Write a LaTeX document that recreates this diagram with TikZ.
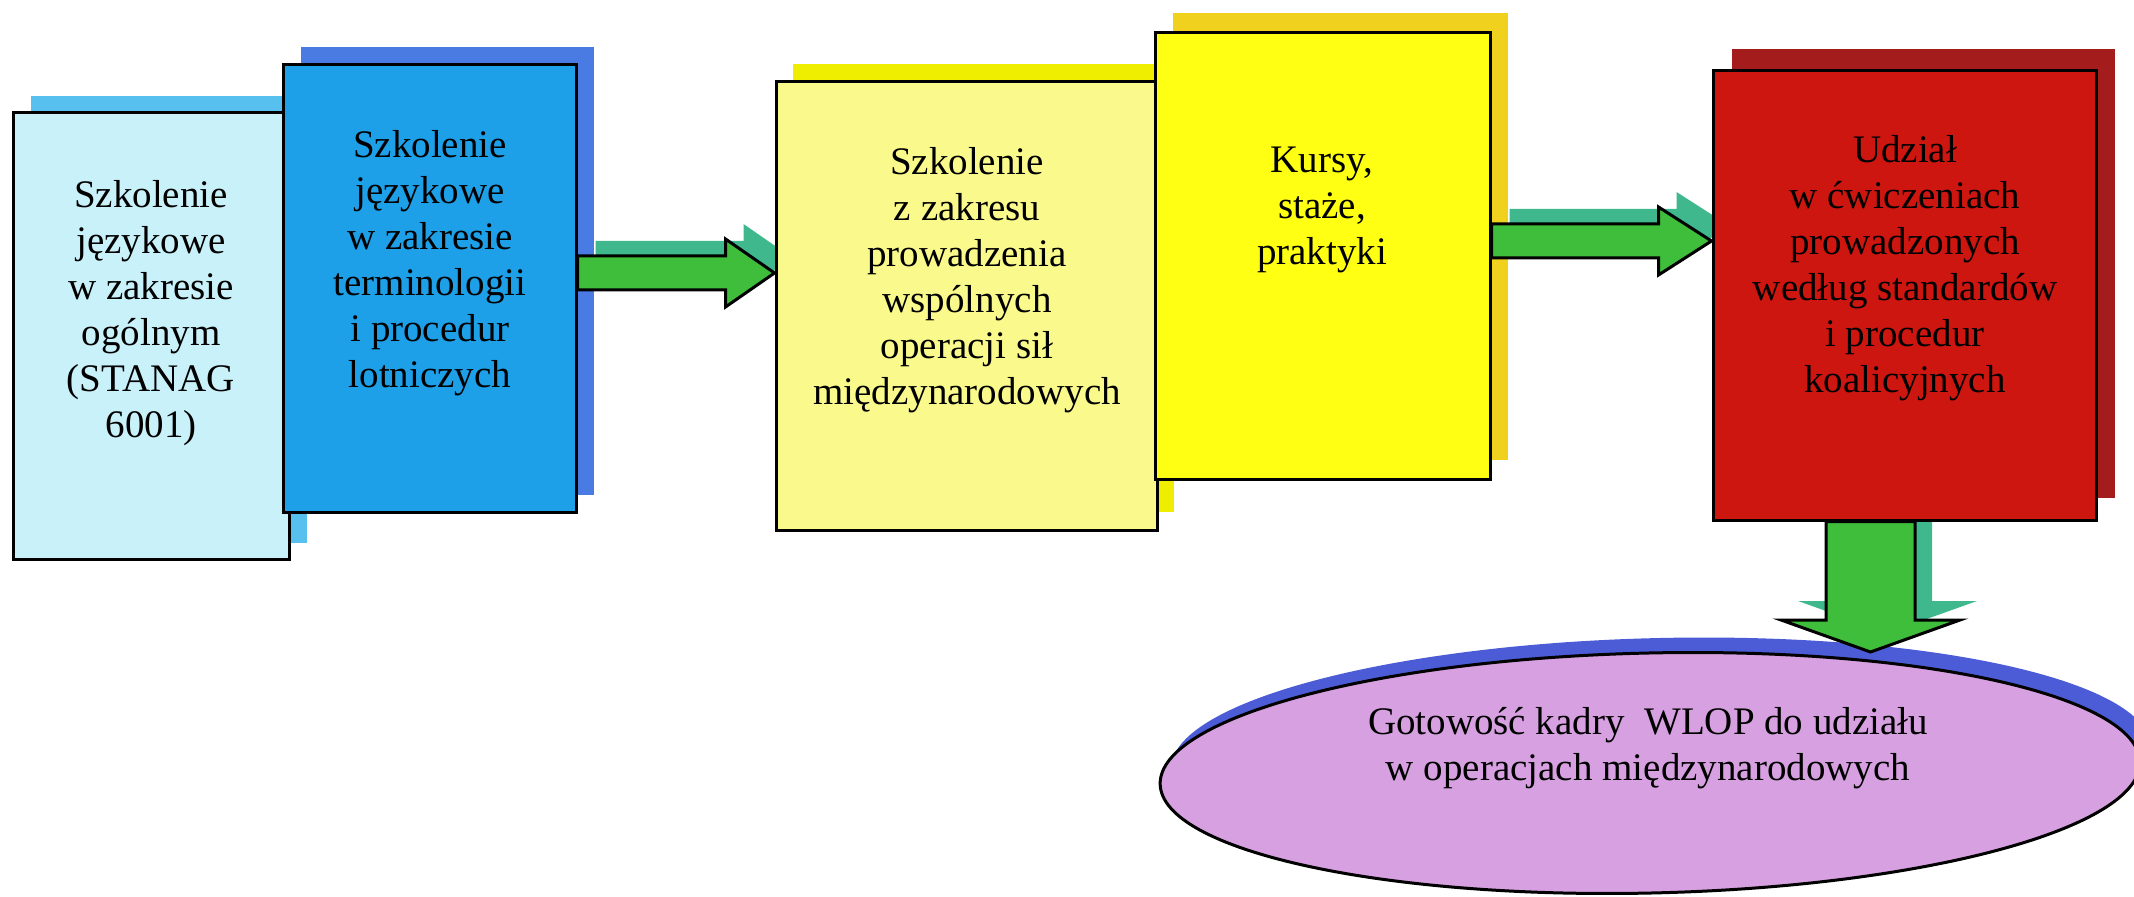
\documentclass[tikz,border=0pt]{standalone}
\usepackage{fontspec}
\setmainfont{Liberation Serif}
\usetikzlibrary{calc,shapes.geometric,shadows}
\definecolor{c1}{RGB}{201,241,249}
\definecolor{c1s}{RGB}{88,192,238}
\definecolor{c2}{RGB}{30,160,232}
\definecolor{c2s}{RGB}{74,123,227}
\definecolor{c3}{RGB}{250,250,140}
\definecolor{c3s}{RGB}{240,238,0}
\definecolor{c4}{RGB}{255,255,20}
\definecolor{c4s}{RGB}{240,210,30}
\definecolor{c5}{RGB}{206,22,16}
\definecolor{c5s}{RGB}{165,28,28}
\definecolor{c6}{RGB}{215,161,225}
\definecolor{c6s}{RGB}{76,92,214}
\definecolor{arr}{RGB}{62,190,58}
\definecolor{arrs}{RGB}{63,184,142}
\pgfdeclarelayer{back}
\pgfsetlayers{back,main}
% #1 start, #2 tip, #3 style, #4 head length, #5 offset
\newcommand\hblockarrow[5]{%
  \path[#3] ($(#1)+#5+(0,-17)$) -- ($(#2)+#5+(-#4,-17)$) -- ($(#2)+#5+(-#4,-34)$)
    -- ($(#2)+#5$) -- ($(#2)+#5+(-#4,34)$) -- ($(#2)+#5+(-#4,17)$)
    -- ($(#1)+#5+(0,17)$) -- cycle;}
% #1 start, #2 tip, #3 style, #4 offset
\newcommand\vblockarrow[4]{%
  \path[#3] ($(#1)+#4+(-44.5,0)$) -- ($(#2)+#4+(-44.5,-32)$) -- ($(#2)+#4+(-89.5,-32)$)
    -- ($(#2)+#4$) -- ($(#2)+#4+(89.5,-32)$) -- ($(#2)+#4+(44.5,-32)$)
    -- ($(#1)+#4+(44.5,0)$) -- cycle;}
\begin{document}
\begin{tikzpicture}[x=0.5pt,y=-0.5pt,
  box/.style={draw=black,line width=1.5pt,inner sep=0pt,rectangle},
  txt/.style={font=\fontsize{19.5}{23}\selectfont,align=center,inner sep=0pt},
  barrow/.style={fill=arr,draw=black,line width=1.5pt,line join=miter},
  sarrow/.style={fill=arrs,draw=none}]
\useasboundingbox (0,0) rectangle (2134,897);

% boxes
\node[box, fill=c1, minimum width=138pt, minimum height=223pt,
  drop shadow={shadow xshift=9pt, shadow yshift=8.25pt, fill=c1s, opacity=1}] (b1) at (151,336) {};
\node[box, fill=c2, minimum width=146.5pt, minimum height=223.5pt,
  drop shadow={shadow xshift=9pt, shadow yshift=8.75pt, fill=c2s, opacity=1}] (b2) at (429.5,288.5) {};
\node[box, fill=c3, minimum width=190.5pt, minimum height=224pt,
  drop shadow={shadow xshift=8.5pt, shadow yshift=9pt, fill=c3s, opacity=1}] (b3) at (966.5,306) {};
\node[box, fill=c4, minimum width=167.5pt, minimum height=223.5pt,
  drop shadow={shadow xshift=9pt, shadow yshift=9.75pt, fill=c4s, opacity=1}] (b4) at (1322.5,256.5) {};
\node[box, fill=c5, minimum width=191.5pt, minimum height=224.5pt,
  drop shadow={shadow xshift=9.5pt, shadow yshift=11pt, fill=c5s, opacity=1}] (b5) at (1904.5,295.5) {};

% ellipse
\node[ellipse, draw=black, line width=1.5pt, fill=c6, inner sep=0pt,
  minimum width=490pt, minimum height=120pt, rotate=1.3,
  drop shadow={shadow xshift=5.5pt, shadow yshift=7.5pt, fill=c6s, opacity=1}] (el) at (1650,773) {};

% arrow anchors
\coordinate (a1y) at (0,273);
\coordinate (a1s) at (b2.east |- a1y);
\coordinate (a1e) at (b3.west |- a1y);
\coordinate (a2y) at (0,241);
\coordinate (a2s) at (b4.east |- a2y);
\coordinate (a2e) at (b5.west |- a2y);
\coordinate (a3x) at (1870.5,0);
\coordinate (a3s) at (a3x |- b5.south);
\coordinate (a3e) at (1870.5,652);

% white page and arrow shadows (behind everything)
\begin{pgfonlayer}{back}
\fill[white] (0,0) rectangle (2134,897);
\hblockarrow{a1s}{a1e}{sarrow}{49}{(18,-15)}
\hblockarrow{a2s}{a2e}{sarrow}{53}{(18,-15)}
\vblockarrow{a3s}{a3e}{sarrow}{(17,-19)}
\end{pgfonlayer}

% arrows
\hblockarrow{a1s}{a1e}{barrow}{49}{(0,0)}
\hblockarrow{a2s}{a2e}{barrow}{53}{(0,0)}
\vblockarrow{a3s}{a3e}{barrow}{(0,0)}

% texts
\node[txt] (t1) at (151,313) {Szkolenie\\językowe\\w zakresie\\ogólnym\\(STANAG\\6001)};
\node[txt] (t2) at (430,263) {Szkolenie\\językowe\\w zakresie\\terminologii\\i procedur\\lotniczych};
\node[txt] (t3) at (967,280) {Szkolenie\\z zakresu\\prowadzenia\\wspólnych\\operacji sił\\międzynarodowych};
\node[txt] (t4) at (1322,210) {Kursy,\\staże,\\praktyki};
\node[txt] (t5) at (1905,268) {Udział\\w ćwiczeniach\\prowadzonych\\według standardów\\i procedur\\koalicyjnych};
\node[txt] (t6) at (1648,748) {Gotowość kadry\ \ WLOP do udziału\\w operacjach międzynarodowych};
\end{tikzpicture}
\end{document}
